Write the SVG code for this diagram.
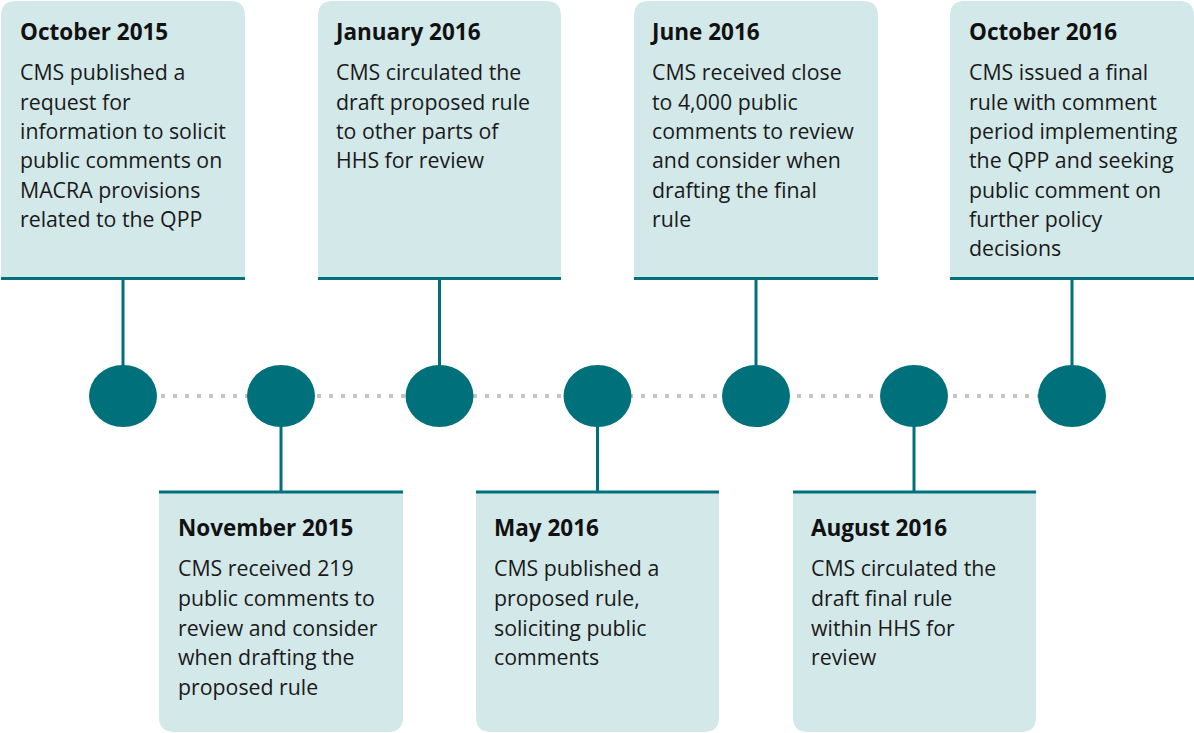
<svg xmlns="http://www.w3.org/2000/svg" width="1194" height="733" viewBox="0 0 1194 733">
  <style>
    .card { fill: #d3e8e9; }
    .rule { stroke: #00707b; stroke-width: 3; fill: none; }
    .stem { stroke: #00707b; stroke-width: 3; }
    .dot { fill: #00707b; }
    .track { stroke: #c4c4c4; stroke-width: 4; stroke-dasharray: 4 8; }
    .title { font-family: "Open Sans", "Liberation Sans", sans-serif; font-weight: bold; font-size: 22.5px; fill: #111; }
    .body { font-family: "Open Sans", "Liberation Sans", sans-serif; font-size: 21.3px; fill: #1a1a1a; }
  </style>

  <!-- dotted timeline track -->
  <g id="connectors">
    <line class="track" x1="161" y1="396" x2="1040" y2="396"/>
    <line class="stem" x1="123" y1="279" x2="123" y2="370"/>
    <line class="stem" x1="439.5" y1="279" x2="439.5" y2="370"/>
    <line class="stem" x1="756" y1="279" x2="756" y2="370"/>
    <line class="stem" x1="1072" y1="279" x2="1072" y2="370"/>
    <line class="stem" x1="281" y1="420" x2="281" y2="492"/>
    <line class="stem" x1="597.5" y1="420" x2="597.5" y2="492"/>
    <line class="stem" x1="914" y1="420" x2="914" y2="492"/>
  </g>

  <!-- milestone markers -->
  <g id="markers">
    <ellipse class="dot" cx="123" cy="396" rx="34" ry="31"/>
    <ellipse class="dot" cx="281" cy="396" rx="34" ry="31"/>
    <ellipse class="dot" cx="439.5" cy="396" rx="34" ry="31"/>
    <ellipse class="dot" cx="597.5" cy="396" rx="34" ry="31"/>
    <ellipse class="dot" cx="756" cy="396" rx="34" ry="31"/>
    <ellipse class="dot" cx="914" cy="396" rx="34" ry="31"/>
    <ellipse class="dot" cx="1072" cy="396" rx="34" ry="31"/>
  </g>

  <g id="oct2015">
    <path class="card" d="M1,277 V16 Q1,1 16,1 H230 Q245,1 245,16 V277 Z"/>
    <line class="rule" x1="1" y1="278.5" x2="245" y2="278.5"/>
    <text class="title" x="20" y="40">October 2015</text>
    <text class="body" x="20" y="80">CMS published a</text>
    <text class="body" x="20" y="109.5">request for</text>
    <text class="body" x="20" y="139">information to solicit</text>
    <text class="body" x="20" y="168">public comments on</text>
    <text class="body" x="20" y="198">MACRA provisions</text>
    <text class="body" x="20" y="227">related to the QPP</text>
  </g>

  <g id="jan2016">
    <path class="card" d="M318,277 V16 Q318,1 333,1 H546 Q561,1 561,16 V277 Z"/>
    <line class="rule" x1="318" y1="278.5" x2="561" y2="278.5"/>
    <text class="title" x="336" y="40">January 2016</text>
    <text class="body" x="336" y="80">CMS circulated the</text>
    <text class="body" x="336" y="109.5">draft proposed rule</text>
    <text class="body" x="336" y="139">to other parts of</text>
    <text class="body" x="336" y="168">HHS for review</text>
  </g>

  <g id="jun2016">
    <path class="card" d="M634,277 V16 Q634,1 649,1 H863 Q878,1 878,16 V277 Z"/>
    <line class="rule" x1="634" y1="278.5" x2="878" y2="278.5"/>
    <text class="title" x="652" y="40">June 2016</text>
    <text class="body" x="652" y="80">CMS received close</text>
    <text class="body" x="652" y="109.5">to 4,000 public</text>
    <text class="body" x="652" y="139">comments to review</text>
    <text class="body" x="652" y="168">and consider when</text>
    <text class="body" x="652" y="198">drafting the final</text>
    <text class="body" x="652" y="227">rule</text>
  </g>

  <g id="oct2016">
    <path class="card" d="M950,277 V16 Q950,1 965,1 H1179 Q1194,1 1194,16 V277 Z"/>
    <line class="rule" x1="950" y1="278.5" x2="1194" y2="278.5"/>
    <text class="title" x="969" y="40">October 2016</text>
    <text class="body" x="969" y="80">CMS issued a final</text>
    <text class="body" x="969" y="109.5">rule with comment</text>
    <text class="body" x="969" y="139">period implementing</text>
    <text class="body" x="969" y="168">the QPP and seeking</text>
    <text class="body" x="969" y="198">public comment on</text>
    <text class="body" x="969" y="227">further policy</text>
    <text class="body" x="969" y="256">decisions</text>
  </g>

  <g id="nov2015">
    <path class="card" d="M159,493 H403 V717 Q403,732 388,732 H174 Q159,732 159,717 Z"/>
    <line class="rule" x1="159" y1="492" x2="403" y2="492"/>
    <text class="title" x="178" y="535.5">November 2015</text>
    <text class="body" x="178" y="575.5">CMS received 219</text>
    <text class="body" x="178" y="605.5">public comments to</text>
    <text class="body" x="178" y="635.5">review and consider</text>
    <text class="body" x="178" y="665">when drafting the</text>
    <text class="body" x="178" y="694.5">proposed rule</text>
  </g>

  <g id="may2016">
    <path class="card" d="M476,493 H719 V717 Q719,732 704,732 H491 Q476,732 476,717 Z"/>
    <line class="rule" x1="476" y1="492" x2="719" y2="492"/>
    <text class="title" x="494" y="535.5">May 2016</text>
    <text class="body" x="494" y="575.5">CMS published a</text>
    <text class="body" x="494" y="605.5">proposed rule,</text>
    <text class="body" x="494" y="635.5">soliciting public</text>
    <text class="body" x="494" y="665">comments</text>
  </g>

  <g id="aug2016">
    <path class="card" d="M793,493 H1036 V717 Q1036,732 1021,732 H808 Q793,732 793,717 Z"/>
    <line class="rule" x1="793" y1="492" x2="1036" y2="492"/>
    <text class="title" x="811" y="535.5">August 2016</text>
    <text class="body" x="811" y="575.5">CMS circulated the</text>
    <text class="body" x="811" y="605.5">draft final rule</text>
    <text class="body" x="811" y="635.5">within HHS for</text>
    <text class="body" x="811" y="665">review</text>
  </g>
</svg>
